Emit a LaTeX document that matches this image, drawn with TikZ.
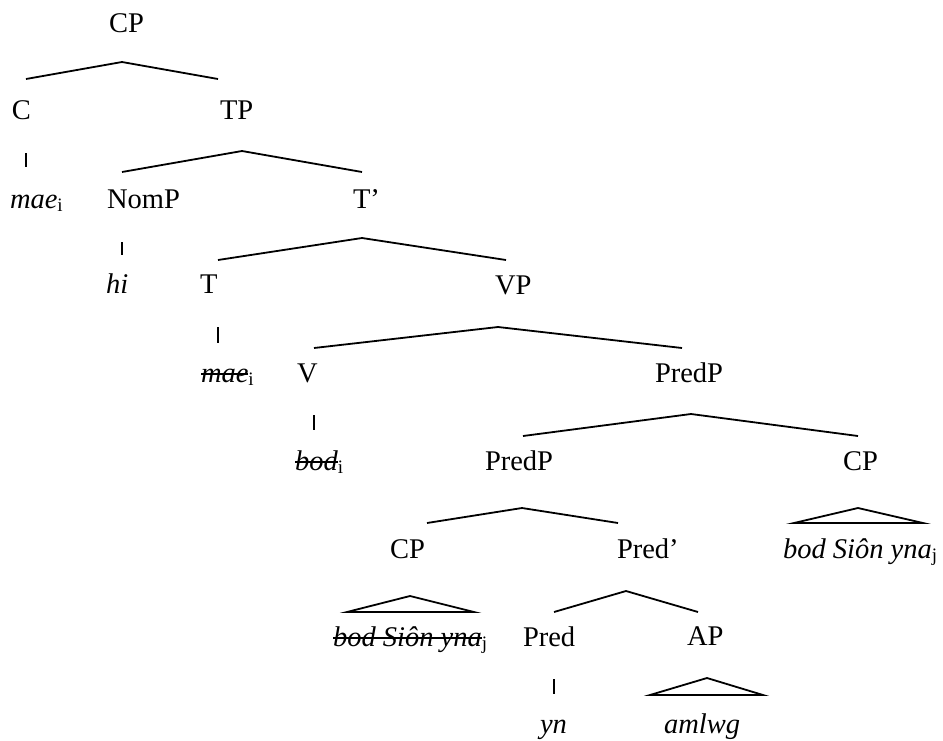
\documentclass[tikz,border=0pt]{standalone}
\usepackage{fontspec}
\setmainfont{Liberation Serif}
% small upright index after a word
\newcommand{\idx}[1]{\raisebox{-3pt}{\fontsize{19}{20}\selectfont #1}}
% struck-through text
\newcommand{\strk}[1]{\setbox0\hbox{#1}\rlap{\rule[7.5pt]{\wd0}{1.6pt}}\box0}
\begin{document}
\begin{tikzpicture}[x=1pt,y=-1pt,
  lab/.style={inner sep=0pt,outer sep=0pt,anchor=base west,font=\fontsize{28.5}{34}\selectfont},
  branch/.style={line width=1.8pt,line join=miter},
  tick/.style={line width=1.8pt}]
\useasboundingbox (0,0) rectangle (943,740);

% labels
\node[lab] (cp0) at (109,32) {CP};
\node[lab] (c) at (12,119) {C};
\node[lab] (tp) at (220,119) {TP};
\node[lab] (mae1) at (10,208) {\textit{mae}\idx{i}};
\node[lab] (nomp) at (107,208) {NomP};
\node[lab] (tbar) at (353,208) {T’};
\node[lab] (hi) at (106,293) {\textit{hi}};
\node[lab] (t) at (200,293) {T};
\node[lab] (vp) at (495,294) {VP};
\node[lab] (mae2) at (201,382) {\strk{\textit{mae}}\idx{i}};
\node[lab] (v) at (297,382) {V};
\node[lab] (predp1) at (655,382) {PredP};
\node[lab] (bod) at (295,470) {\strk{\textit{bod}}\idx{i}};
\node[lab] (predp2) at (485,470) {PredP};
\node[lab] (cp1) at (843,470) {CP};
\node[lab] (cp2) at (390,558) {CP};
\node[lab] (predbar) at (617,558) {Pred’};
\node[lab] (bsy1) at (783,558) {\textit{bod Siôn yna}\idx{j}};
\node[lab] (bsy2) at (333,646) {\strk{\textit{bod Siôn yna}}\idx{j}};
\node[lab] (pred) at (523,646) {Pred};
\node[lab] (ap) at (687,645) {AP};
\node[lab] (yn) at (540,733) {\textit{yn}};
\node[lab] (amlwg) at (664,733) {\textit{amlwg}};

% branch points
\coordinate (cpL) at (26,79);   \coordinate (cpA) at (122,62);  \coordinate (cpR) at (218,79);
\coordinate (tpL) at (122,172); \coordinate (tpA) at (242,151); \coordinate (tpR) at (362,172);
\coordinate (tbL) at (218,260); \coordinate (tbA) at (362,238); \coordinate (tbR) at (506,260);
\coordinate (vpL) at (314,348); \coordinate (vpA) at (498,327); \coordinate (vpR) at (682,348);
\coordinate (p1L) at (523,436); \coordinate (p1A) at (691,414); \coordinate (p1R) at (858,436);
\coordinate (p2L) at (427,523); \coordinate (p2A) at (522,508); \coordinate (p2R) at (618,523);
\coordinate (pbL) at (554,612); \coordinate (pbA) at (626,591); \coordinate (pbR) at (698,612);

\draw[branch] (cpL) -- (cpA) -- (cpR);
\draw[branch] (tpL) -- (tpA) -- (tpR);
\draw[branch] (tbL) -- (tbA) -- (tbR);
\draw[branch] (vpL) -- (vpA) -- (vpR);
\draw[branch] (p1L) -- (p1A) -- (p1R);
\draw[branch] (p2L) -- (p2A) -- (p2R);
\draw[branch] (pbL) -- (pbA) -- (pbR);

% unary ticks
\coordinate (kc1) at (26,153);  \coordinate (kc2) at (26,167);
\coordinate (kn1) at (122,242); \coordinate (kn2) at (122,255);
\coordinate (kt1) at (218,327); \coordinate (kt2) at (218,343);
\coordinate (kv1) at (314,415); \coordinate (kv2) at (314,430);
\coordinate (kp1) at (554,679); \coordinate (kp2) at (554,694);
\draw[tick] (kc1) -- (kc2);
\draw[tick] (kn1) -- (kn2);
\draw[tick] (kt1) -- (kt2);
\draw[tick] (kv1) -- (kv2);
\draw[tick] (kp1) -- (kp2);

% roof triangles
\coordinate (r1L) at (794,523); \coordinate (r1A) at (858,508); \coordinate (r1R) at (923,523);
\coordinate (r2L) at (347,612); \coordinate (r2A) at (410,596); \coordinate (r2R) at (474,612);
\coordinate (r3L) at (650,695); \coordinate (r3A) at (707,678); \coordinate (r3R) at (763,695);
\draw[branch] (r1L) -- (r1A) -- (r1R) -- cycle;
\draw[branch] (r2L) -- (r2A) -- (r2R) -- cycle;
\draw[branch] (r3L) -- (r3A) -- (r3R) -- cycle;
\end{tikzpicture}
\end{document}
